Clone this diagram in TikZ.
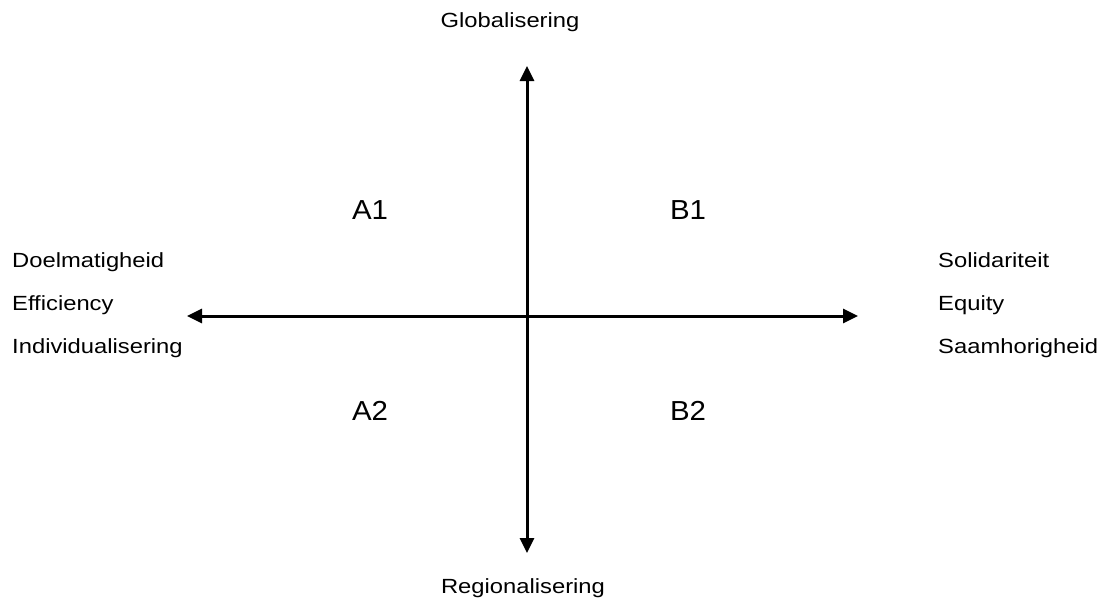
\documentclass[tikz,border=0pt]{standalone}
\usepackage{fontspec}
\setmainfont{Liberation Sans}
\newfontfamily\lblfont[FakeStretch=1.16]{Liberation Sans}
\newfontfamily\quadfont[FakeStretch=1.07]{Liberation Sans}
\usetikzlibrary{arrows.meta}
\tikzset{
  axis/.style={line width=3pt, {Triangle[width=14pt,length=15pt]}-{Triangle[width=14pt,length=15pt]}},
  lbl/.style={inner sep=0pt, font=\lblfont\fontsize{20.5}{25}\selectfont},
  quad/.style={inner sep=0pt, font=\quadfont\fontsize{27.5}{33}\selectfont}
}
\begin{document}
\begin{tikzpicture}[x=1pt,y=-1pt]
\useasboundingbox (0,0) rectangle (1102,600);
\coordinate (top) at (527,66);
\coordinate (bot) at (527,553);
\coordinate (left) at (187,316);
\coordinate (right) at (858,316);
\draw[axis] (bot) -- (top);
\draw[axis] (left) -- (right);
\node[lbl, anchor=base] (glob) at (510,27) {Globalisering};
\node[lbl, anchor=base] (reg) at (523,593) {Regionalisering};
\node[lbl, anchor=base west] (doel) at (12,267) {Doelmatigheid};
\node[lbl, anchor=base west] (eff) at (12,310) {Efficiency};
\node[lbl, anchor=base west] (ind) at (12,353) {Individualisering};
\node[lbl, anchor=base west] (sol) at (938,267) {Solidariteit};
\node[lbl, anchor=base west] (equ) at (938,310) {Equity};
\node[lbl, anchor=base west] (saam) at (938,353) {Saamhorigheid};
\node[quad, anchor=base] (a1) at (370,219.5) {A1};
\node[quad, anchor=base] (b1) at (688,219.5) {B1};
\node[quad, anchor=base] (a2) at (370,420) {A2};
\node[quad, anchor=base] (b2) at (688,420) {B2};
\end{tikzpicture}
\end{document}
